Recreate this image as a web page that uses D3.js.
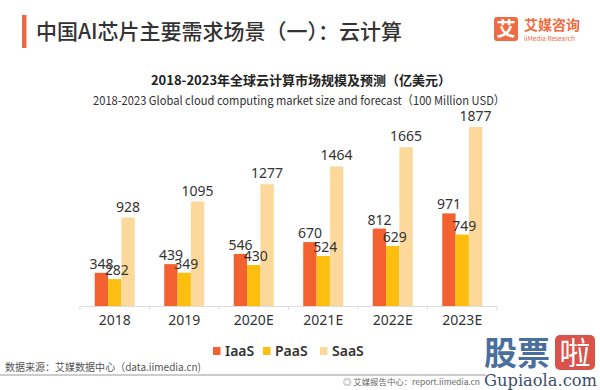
<!DOCTYPE html>
<html><head><meta charset="utf-8">
<script src="https://cdn.jsdelivr.net/npm/d3@7"></script>
<style>
html,body{margin:0;padding:0;background:#fff;}
svg{display:block;font-family:"Noto Sans CJK SC","Noto Sans",sans-serif;}
</style></head>
<body>
<svg id="chart" width="600" height="390"></svg>
<script>
const categories = ["2018","2019","2020E","2021E","2022E","2023E"];
const seriesNames = ["IaaS","PaaS","SaaS"];
const iaas = [348,439,546,670,812,971];
const paas = [282,349,430,524,629,749];
const saas = [928,1095,1277,1464,1665,1877];
const colors = ["#F2612F","#FDBE0F","#FCD89B"];

const svg = d3.select("#chart");
const values = [iaas, paas, saas];

// header
svg.append("rect").attr("x",22).attr("y",15).attr("width",4.5).attr("height",33).attr("fill","#EC6A42");
svg.append("text").attr("x",36).attr("y",39).attr("font-size",21).attr("font-weight",500)
  .attr("fill","#333").text("中国AI芯片主要需求场景（一）：云计算");
svg.append("rect").attr("x",494).attr("y",17).attr("width",24).attr("height",24).attr("rx",3).attr("fill","#EE6B43");
svg.append("text").attr("x",506).attr("y",36).attr("text-anchor","middle").attr("font-size",19).attr("font-weight",700).attr("fill","#fff").text("艾");
svg.append("text").attr("x",524).attr("y",30).attr("font-size",14).attr("font-weight",700).attr("fill","#EE6B43").text("艾媒咨询");
svg.append("text").attr("x",524).attr("y",41).attr("font-size",6.5).attr("fill","#EE6B43").text("iiMedia Research");

// chart titles
svg.append("text").attr("x",301).attr("y",85).attr("text-anchor","middle").attr("font-size",13).attr("font-weight",700)
  .attr("fill","#222").text("2018-2023年全球云计算市场规模及预测（亿美元）");
svg.append("text").attr("x",299).attr("y",105).attr("text-anchor","middle").attr("font-size",12)
  .attr("textLength",412).attr("lengthAdjust","spacingAndGlyphs")
  .attr("fill","#333").text("2018-2023 Global cloud computing market size and forecast（100 Million USD）");

// scales
const x = d3.scaleBand().domain(categories).range([80,497]).paddingInner(0).paddingOuter(0);
const inner = d3.scaleBand().domain(seriesNames).range([0,40]);
const y = d3.scaleLinear().domain([0,1877]).range([306,127]);

const groups = svg.append("g").selectAll("g").data(categories).join("g")
  .attr("transform", d => `translate(${x(d) + x.bandwidth()/2 - 20},0)`);

seriesNames.forEach((s, si) => {
  groups.append("rect")
    .attr("x", inner(s)).attr("width", inner.bandwidth())
    .attr("y", (d,i) => y(values[si][i]))
    .attr("height", (d,i) => y(0) - y(values[si][i]))
    .attr("fill", colors[si]);
});
const labelOff = [4, 4, 6];
const labelDx = [0, 2, 0];
seriesNames.forEach((s, si) => {
  groups.append("text")
    .attr("x", inner(s) + inner.bandwidth()/2 + labelDx[si])
    .attr("y", (d,i) => y(values[si][i]) - labelOff[si])
    .attr("text-anchor","middle").attr("font-size",14).attr("fill","#333")
    .attr("font-family","'Noto Sans',sans-serif")
    .text((d,i) => values[si][i]);
});

// axis
const axis = svg.append("g").attr("transform","translate(0,306)")
  .call(d3.axisBottom(x).tickSize(0).tickPadding(9));
axis.select(".domain").attr("stroke","#ddd");
axis.selectAll("text").attr("font-size",14).attr("fill","#333").attr("font-family","'Noto Sans',sans-serif");
svg.append("g").selectAll("line").data(d3.range(categories.length+1)).join("line")
  .attr("x1", i => 80 + i*x.bandwidth()).attr("x2", i => 80 + i*x.bandwidth())
  .attr("y1",306).attr("y2",310).attr("stroke","#ddd");

// legend
const legX = [213, 263, 320];
const leg = svg.append("g").selectAll("g").data(seriesNames).join("g")
  .attr("transform",(d,i)=>`translate(${legX[i]},346)`);
leg.append("rect").attr("width",7.5).attr("height",8).attr("y",1).attr("fill",(d,i)=>colors[i]);
leg.append("text").attr("x",12).attr("y",10).attr("font-size",14).attr("font-weight",600)
  .attr("font-family","'Noto Sans',sans-serif").attr("fill","#333").text(d=>d);

// footer
svg.append("text").attr("x",5).attr("y",371).attr("font-size",10.5)
  .attr("textLength",196).attr("lengthAdjust","spacingAndGlyphs")
  .attr("fill","#555").text("数据来源：艾媒数据中心（data.iimedia.cn)");
svg.append("line").attr("x1",0).attr("x2",486).attr("y1",375).attr("y2",375).attr("stroke","#999").attr("stroke-width",1);
svg.append("text").attr("x",343).attr("y",385).attr("font-size",7.5).attr("fill","#666")
  .attr("textLength",137).attr("lengthAdjust","spacingAndGlyphs").text("◎ 艾媒报告中心：report.iimedia.cn");

// watermark
svg.append("text").attr("x",484).attr("y",365).attr("font-size",33).attr("font-weight",700).attr("fill","#4A6F9E").text("股票");
svg.append("rect").attr("x",555).attr("y",335).attr("width",40).attr("height",35).attr("rx",5).attr("fill","#D9534A");
svg.append("text").attr("x",575).attr("y",364).attr("text-anchor","middle").attr("font-size",31).attr("fill","#fff").text("啦");
svg.append("text").attr("x",484).attr("y",386).attr("font-size",16).attr("font-family","'DejaVu Serif',serif")
  .attr("textLength",113).attr("lengthAdjust","spacingAndGlyphs").attr("fill","#3D4E6B").text("Gupiaola.com");
</script>
</body></html>
